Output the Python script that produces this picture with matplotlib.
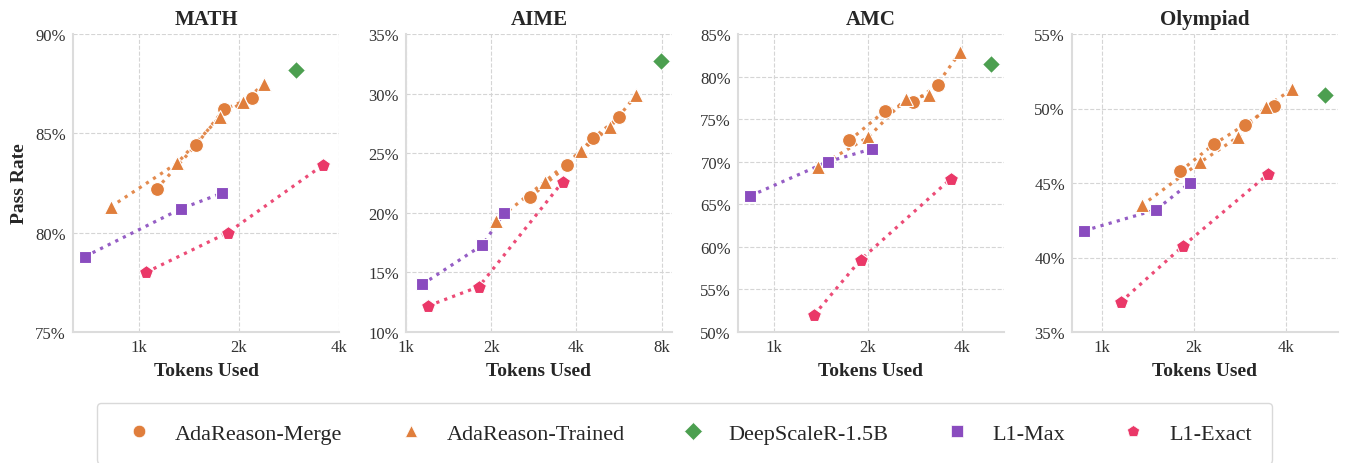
import matplotlib
matplotlib.use("Agg")
import matplotlib.pyplot as plt
from matplotlib.lines import Line2D
from matplotlib.ticker import FuncFormatter, NullLocator

plt.rcParams['font.family'] = ['Liberation Serif', 'DejaVu Serif']

# ---------------- data (tokens, pass rate %) ----------------
benchmarks = ["MATH", "AIME", "AMC", "Olympiad"]
series_names = ["AdaReason-Merge", "AdaReason-Trained", "DeepScaleR-1.5B", "L1-Max", "L1-Exact"]

math_merge_x = [1130, 1485, 1803, 2193]
math_merge_y = [82.2, 84.4, 86.2, 86.8]
math_trained_x = [822, 1304, 1750, 2066, 2390]
math_trained_y = [81.3, 83.5, 85.8, 86.6, 87.5]
math_deep_x = [2975]
math_deep_y = [88.2]
math_l1max_x = [688, 1338, 1786]
math_l1max_y = [78.8, 81.2, 82.0]
math_l1exact_x = [1050, 1853, 3588]
math_l1exact_y = [78.0, 80.0, 83.4]

aime_merge_x = [2749, 3717, 4595, 5648]
aime_merge_y = [21.3, 24.0, 26.3, 28.0]
aime_trained_x = [2072, 3089, 4156, 5278, 6508]
aime_trained_y = [19.3, 22.6, 25.2, 27.2, 29.9]
aime_deep_x = [7956]
aime_deep_y = [32.7]
aime_l1max_x = [1142, 1863, 2224]
aime_l1max_y = [14.0, 17.3, 20.0]
aime_l1exact_x = [1200, 1809, 3577]
aime_l1exact_y = [12.2, 13.8, 22.6]

amc_merge_x = [1745, 2269, 2784, 3333]
amc_merge_y = [72.5, 76.0, 77.0, 79.0]
amc_trained_x = [1385, 2006, 2639, 3137, 3942]
amc_trained_y = [69.4, 72.9, 77.4, 77.8, 82.9]
amc_deep_x = [4942]
amc_deep_y = [81.5]
amc_l1max_x = [844, 1490, 2055]
amc_l1max_y = [66.0, 70.0, 71.5]
amc_l1exact_x = [1346, 1896, 3673]
amc_l1exact_y = [52.0, 58.5, 68.0]

oly_merge_x = [1805, 2321, 2930, 3645]
oly_merge_y = [45.8, 47.6, 48.9, 50.2]
oly_trained_x = [1351, 2098, 2793, 3431, 4190]
oly_trained_y = [43.5, 46.4, 48.1, 50.1, 51.3]
oly_deep_x = [5371]
oly_deep_y = [50.9]
oly_l1max_x = [875, 1501, 1937]
oly_l1max_y = [41.8, 43.2, 45.0]
oly_l1exact_x = [1150, 1847, 3499]
oly_l1exact_y = [37.0, 40.8, 45.6]

x_ticks = {
    "MATH": [1000, 2000, 4000],
    "AIME": [1000, 2000, 4000, 8000],
    "AMC": [1000, 2000, 4000],
    "Olympiad": [1000, 2000, 4000],
}
y_ticks = {
    "MATH": [75, 80, 85, 90],
    "AIME": [10, 15, 20, 25, 30, 35],
    "AMC": [50, 55, 60, 65, 70, 75, 80, 85],
    "Olympiad": [35, 40, 45, 50, 55],
}

# ---------------- styling ----------------
colors = ["#E07E3C", "#E07E3C", "#4C9F50", "#8A4CBF", "#EA3868"]
markers = ["o", "^", "D", "s", "p"]
msizes = [10.0, 9.5, 9.0, 9.2, 10.0]
leg_msizes = [9.0, 8.5, 9.0, 8.5, 9.0]
xlims = {"MATH": (633, 4010), "AIME": (1000, 8705), "AMC": (770, 5428), "Olympiad": (798, 5915)}

panel_data = {
    "MATH": [(math_merge_x, math_merge_y), (math_trained_x, math_trained_y), (math_deep_x, math_deep_y),
             (math_l1max_x, math_l1max_y), (math_l1exact_x, math_l1exact_y)],
    "AIME": [(aime_merge_x, aime_merge_y), (aime_trained_x, aime_trained_y), (aime_deep_x, aime_deep_y),
             (aime_l1max_x, aime_l1max_y), (aime_l1exact_x, aime_l1exact_y)],
    "AMC": [(amc_merge_x, amc_merge_y), (amc_trained_x, amc_trained_y), (amc_deep_x, amc_deep_y),
            (amc_l1max_x, amc_l1max_y), (amc_l1exact_x, amc_l1exact_y)],
    "Olympiad": [(oly_merge_x, oly_merge_y), (oly_trained_x, oly_trained_y), (oly_deep_x, oly_deep_y),
                 (oly_l1max_x, oly_l1max_y), (oly_l1exact_x, oly_l1exact_y)],
}

W, H = 1347, 464
fig = plt.figure(figsize=(W / 100, H / 100), dpi=100)
lefts_px = [73, 406, 738, 1072]
ax_w_px = 266
bottom = (H - 333) / H
height = 298 / H

text_color = "#262626"
for i, b in enumerate(benchmarks):
    ax = fig.add_axes([lefts_px[i] / W, bottom, ax_w_px / W, height])
    ax.set_xscale("log", base=2)
    for j, (xs, ys) in enumerate(panel_data[b]):
        if len(xs) > 1:
            ax.plot(xs, ys, linestyle=":", color=colors[j], lw=2.3, alpha=0.9, zorder=2)
        ax.plot(xs, ys, linestyle="none", marker=markers[j], ms=msizes[j], color=colors[j],
                markeredgecolor="white", markeredgewidth=0.8, zorder=3)
    ax.set_xlim(*xlims[b])
    ax.set_ylim(y_ticks[b][0], y_ticks[b][-1])
    ax.set_xticks(x_ticks[b])
    ax.set_xticklabels([f"{int(t/1000)}k" for t in x_ticks[b]])
    ax.xaxis.set_minor_locator(NullLocator())
    ax.set_yticks(y_ticks[b])
    ax.yaxis.set_major_formatter(FuncFormatter(lambda v, p: f"{int(round(v))}%"))
    ax.grid(True, linestyle="--", color="#d5d5d5", lw=0.8, zorder=0)
    ax.set_axisbelow(True)
    for s in ["top", "right"]:
        ax.spines[s].set_visible(False)
    for s in ["left", "bottom"]:
        ax.spines[s].set_color("#dcdcdc")
        ax.spines[s].set_linewidth(1.5)
    ax.tick_params(length=0, labelsize=12, colors="#333333", pad=5)
    ax.set_title(b, fontsize=15, fontweight="bold", color=text_color, pad=7)
    ax.set_xlabel("Tokens Used", fontsize=14, fontweight="bold", color=text_color, labelpad=5)
    if i == 0:
        ax.set_ylabel("Pass Rate", fontsize=14, fontweight="bold", color=text_color, labelpad=5)

handles = [Line2D([], [], linestyle="none", marker=markers[j], color=colors[j], ms=leg_msizes[j],
                  markeredgecolor="white", markeredgewidth=0.5)
           for j in range(len(series_names))]
leg = fig.legend(handles, series_names, loc="upper center", bbox_to_anchor=(684.5 / W, (H - 404) / H),
                 ncol=5, fontsize=16, frameon=True, borderpad=0.9, borderaxespad=0.0,
                 columnspacing=2.06, handletextpad=0.62, handlelength=2.0, fancybox=True)
leg.get_frame().set_edgecolor("#d0d0d0")
leg.get_frame().set_linewidth(1.0)
for t in leg.get_texts():
    t.set_color(text_color)

fig.savefig("out.png", dpi=100)
